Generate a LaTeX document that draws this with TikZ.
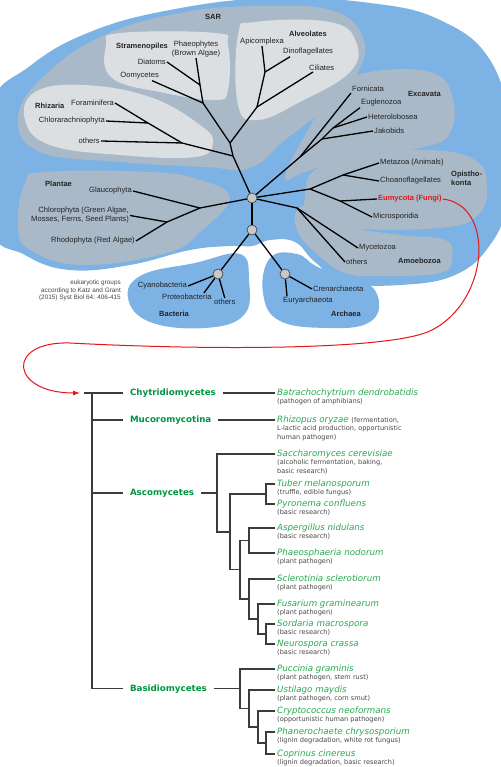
\documentclass[tikz,border=0pt]{standalone}
\usepackage{fontspec}
\setmainfont{Liberation Sans}
\newfontfamily\verdfont{DejaVu Sans}
\usetikzlibrary{arrows.meta}

\definecolor{blobblue}{RGB}{124,178,228}
\definecolor{zonegray}{RGB}{170,185,200}
\definecolor{boxgray}{RGB}{220,223,226}
\definecolor{hubgray}{RGB}{200,200,200}
\definecolor{inkgray}{RGB}{35,35,35}
\definecolor{notegray}{RGB}{70,70,70}
\definecolor{fungired}{RGB}{232,20,20}
\definecolor{cladegreen}{RGB}{0,150,64}
\definecolor{specgreen}{RGB}{40,170,80}
\definecolor{treegray}{RGB}{60,60,60}

\tikzset{
	lbl/.style={font=\fontsize{7.6}{9}\selectfont, text=inkgray, inner sep=1pt},
	grp/.style={font=\bfseries\fontsize{7.5}{9}\selectfont, text=inkgray, inner sep=1pt},
	cite/.style={font=\fontsize{6.4}{7.5}\selectfont, text=notegray, inner sep=0pt, align=right},
	hub/.style={circle, draw=treegray, fill=hubgray, line width=0.6pt, minimum size=10pt, inner sep=0pt},
	branch/.style={line width=1.3pt, black},
	clade/.style={font=\verdfont\bfseries\fontsize{8.7}{10}\selectfont, text=cladegreen, anchor=west, inner xsep=2.5pt, outer xsep=4.5pt},
	spec/.style={font=\verdfont\itshape\fontsize{8.7}{10}\selectfont, text=specgreen, anchor=west, inner xsep=2pt, inner ysep=1pt, text height=6.6pt, text depth=2pt},
	note/.style={font=\verdfont\fontsize{6.6}{8.6}\selectfont, text=notegray, anchor=north west, inner xsep=2pt, inner ysep=0pt, align=left},
	elbow/.style={line width=1.2pt, treegray},
	fungiarrow/.style={fungired, line width=1pt, -{Latex[length=7pt,width=5pt]}, shorten >=4pt}
}

\newcommand{\notefont}{\verdfont\upshape\fontsize{6.6}{8.6}\selectfont\color{notegray}}

\begin{document}
\begin{tikzpicture}[x=1pt,y=-1pt]

\def\BLOBCOLOR{blobblue}
\def\ZONECOLOR{zonegray}
\def\BOXCOLOR{boxgray}
	\useasboundingbox (0,0) rectangle (500,767);
	\fill[white] (0,0) rectangle (500,767);

	% blue areas
	\fill[\BLOBCOLOR] plot[smooth cycle, tension=0.7] coordinates {(-10,110) (30,66) (90,32) (170,10) (270,-2) (370,3) (440,20) (490,60) (510,130) (508,200) (490,245) (455,275) (400,285) (345,282) (315,262) (295,242) (270,240) (252,246) (230,246) (190,250) (130,265) (70,270) (25,255) (-10,225)};
	\fill[\BLOBCOLOR] plot[smooth cycle, tension=0.7] coordinates {(240,254) (249,280) (244,315) (205,328) (150,322) (128,298) (142,275) (195,263)};
	\fill[\BLOBCOLOR] plot[smooth cycle, tension=0.7] coordinates {(270,258) (297,254) (320,268) (363,280) (379,302) (368,323) (330,328) (280,321) (263,293)};

	% gray zones
	\fill[\ZONECOLOR] plot[smooth cycle, tension=0.7] coordinates {(18,120) (40,80) (100,37) (180,13) (260,6) (330,10) (362,35) (358,72) (320,112) (285,140) (250,168) (205,167) (120,162) (40,152)};
	\fill[\ZONECOLOR] plot[smooth cycle, tension=0.7] coordinates {(285,178) (305,135) (335,90) (370,72) (430,72) (452,95) (450,133) (420,148) (350,158) (305,172)};
	\fill[\ZONECOLOR] plot[smooth cycle, tension=0.7] coordinates {(297,210) (318,205) (345,225) (400,235) (445,240) (452,258) (440,273) (380,276) (345,273) (318,255) (298,232)};
	\fill[\ZONECOLOR] plot[smooth cycle, tension=0.7] coordinates {(305,195) (315,170) (360,155) (430,150) (475,160) (487,185) (478,215) (440,228) (350,228) (310,215)};
	\fill[\ZONECOLOR] plot[smooth cycle, tension=0.7] coordinates {(25,183) (45,172) (150,172) (200,180) (230,198) (200,232) (167,253) (83,265) (30,250) (18,225)};

	% light boxes
	\fill[\BOXCOLOR] plot[smooth cycle, tension=0.7] coordinates {(25,120) (35,92) (83,85) (150,97) (200,125) (213,143) (195,157) (120,155) (50,145)};
	\fill[\BOXCOLOR] plot[smooth cycle, tension=0.7] coordinates {(106,45) (120,33) (215,33) (228,45) (228,90) (215,100) (165,93) (112,78)};
	\fill[\BOXCOLOR] plot[smooth cycle, tension=0.7] coordinates {(238,35) (255,22) (330,22) (356,42) (350,72) (300,102) (258,120) (238,105)};

	% group names
	\node[grp] (sar) at (213,17) {SAR};
	\node[grp] (stra) at (142,47) {Stramenopiles};
	\node[grp, anchor=west] (rhza) at (34,106) {Rhizaria};
	\node[grp] (alve) at (308,34) {Alveolates};
	\node[grp, anchor=west] (exca) at (407,94) {Excavata};
	\node[grp, anchor=west, align=left] (opis) at (450,178.5) {Opistho-\\konta};
	\node[grp, anchor=west] (amoe) at (397,261) {Amoebozoa};
	\node[grp, anchor=west] (plan) at (44,184) {Plantae};
	\node[grp] (bact) at (174,314) {Bacteria};
	\node[grp] (arch) at (346,314) {Archaea};

	% leaves
	\node[lbl, anchor=south, align=center] (phae) at (196,58) {Phaeophytes\\(Brown Algae)};
	\node[lbl, anchor=east] (diat) at (167,62) {Diatoms};
	\node[lbl, anchor=east] (oomy) at (160,76) {Oomycetes};
	\node[lbl, anchor=east] (fora) at (115,103) {Foraminifera};
	\node[lbl, anchor=east] (chlr) at (106,121) {Chlorarachniophyta};
	\node[lbl, anchor=east] (roth) at (101,141) {others};
	\node[lbl, anchor=south] (apic) at (262,46) {Apicomplexa};
	\node[lbl, anchor=west] (dino) at (282,52) {Dinoflagellates};
	\node[lbl, anchor=west] (cili) at (308,68) {Ciliates};
	\node[lbl, anchor=west] (forn) at (351,89) {Fornicata};
	\node[lbl, anchor=west] (eugl) at (360,103) {Euglenozoa};
	\node[lbl, anchor=west] (hete) at (367,117) {Heterolobosea};
	\node[lbl, anchor=west] (jako) at (373,131) {Jakobids};
	\node[lbl, anchor=west] (meta) at (379,163) {Metazoa (Animals)};
	\node[lbl, anchor=west] (choa) at (379,181) {Choanoflagellates};
	\node[grp, anchor=west, text=fungired] (eumy) at (377,199) {Eumycota (Fungi)};
	\node[lbl, anchor=west] (micr) at (372,217) {Microsporidia};
	\node[lbl, anchor=west] (myce) at (358,248) {Mycetozoa};
	\node[lbl, anchor=west] (aoth) at (345,262) {others};
	\node[lbl, anchor=east] (glau) at (133,191) {Glaucophyta};
	\node[lbl, anchor=east, align=right] (chlo) at (130,215.5) {Chlorophyta (Green Algae,\\Mosses, Ferns, Seed Plants)};
	\node[lbl, anchor=east] (rhod) at (136,241) {Rhodophyta (Red Algae)};
	\node[lbl, anchor=east] (cyan) at (188,286) {Cyanobacteria};
	\node[lbl, anchor=west] (prot) at (161,297) {Proteobacteria};
	\node[lbl, anchor=west] (both) at (213,302) {others};
	\node[lbl, anchor=west] (cren) at (312,289) {Crenarchaeota};
	\node[lbl, anchor=west] (eury) at (282,301) {Euryarchaeota};
	\node[cite, anchor=east] (cite) at (121,290.5) {eukaryotic groups\\according to Katz and Grant\\(2015) Syst Biol 64: 406-415};

	% hubs
	\node[hub] (euk) at (252,198) {};
	\node[hub] (cel) at (252,230) {};
	\node[hub] (bac) at (218,274) {};
	\node[hub] (arc) at (285,274) {};

	\coordinate (s1) at (200,85);
	\coordinate (s2) at (203,103);
	\coordinate (s3) at (230,143);
	\coordinate (s0) at (233,156);
	\coordinate (r1) at (148,123);
	\coordinate (r2) at (182,143);
	\coordinate (a1) at (265,72);
	\coordinate (a2) at (257,107);
	\coordinate (x1) at (300,157);
	\coordinate (x2) at (322,139);
	\coordinate (x3) at (333,128);
	\coordinate (o1) at (310,189);
	\coordinate (o2) at (343,175);
	\coordinate (o3) at (340,201);
	\coordinate (m1) at (297,208);
	\coordinate (p1) at (200,208);
	\coordinate (p2) at (167,222);

	% unrooted tree
	\draw[branch] (phae.south) -- (s1);
	\draw[branch] (diat.east) -- (s1) -- (s2);
	\draw[branch] ([xshift=-8pt]oomy.south east) -- (s2) -- (s3) -- (s0) -- (euk);
	\draw[branch] (fora.east) -- (r1) -- (r2) -- (s0);
	\draw[branch] (chlr.east) -- (r1);
	\draw[branch] (roth.east) -- (r2);
	\draw[branch] (apic.south) -- (a1) -- (a2) -- (s3);
	\draw[branch] ([xshift=8pt]dino.south west) -- (a1);
	\draw[branch] ([xshift=5pt]cili.south west) -- (a2);
	\draw[branch] (forn.south west) -- (x1) -- (euk);
	\draw[branch] (x1) -- (x2) -- (jako.west);
	\draw[branch] (x2) -- (x3) -- (hete.west);
	\draw[branch] (x3) -- (eugl.south west);
	\draw[branch] (euk) -- (o1) -- (o2) -- (meta.west);
	\draw[branch] (o2) -- (choa.west);
	\draw[branch] (o1) -- (o3) -- (eumy.west);
	\draw[branch] (o3) -- (micr.west);
	\draw[branch] (euk) -- (m1) -- (myce.west);
	\draw[branch] (m1) -- (aoth.west);
	\draw[branch] (euk) -- (p1) -- (glau.east);
	\draw[branch] (p1) -- (p2) -- (chlo.east);
	\draw[branch] (p2) -- (rhod.east);
	\draw[branch] (euk) -- (cel);
	\draw[branch] (cel) -- (bac);
	\draw[branch] (cel) -- (arc);
	\draw[branch] (bac) -- (cyan.east);
	\draw[branch] (bac) -- ([xshift=-9pt]prot.north east);
	\draw[branch] (bac) -- (both.north);
	\draw[branch] (arc) -- (cren.west);
	\draw[branch] (arc) -- ([xshift=5pt]eury.north west);

	% fungal tree
	\coordinate (root) at (84,393);
	\coordinate (j0) at (92,393);
	\node[clade] (chyt) at (123,393) {Chytridiomycetes};
	\node[clade] (muco) at (123,420) {Mucoromycotina};
	\node[clade] (asco) at (123,493) {Ascomycetes};
	\node[clade] (basi) at (123,688.75) {Basidiomycetes};

	\node[spec] (batr) at (275,393) {Batrachochytrium dendrobatidis};
	\node[note] (batr-n) at (batr.south west) {(pathogen of amphibians)};
	\node[spec] (rhiz) at (275,420) {Rhizopus oryzae {\notefont (fermentation,}};
	\node[note] (rhiz-n) at (rhiz.south west) {L-lactic acid production, opportunistic\\human pathogen)};
	\node[spec] (sacc) at (275,454) {Saccharomyces cerevisiae};
	\node[note] (sacc-n) at (sacc.south west) {(alcoholic fermentation, baking,\\basic research)};
	\node[spec] (tube) at (275,484) {Tuber melanosporum};
	\node[note] (tube-n) at (tube.south west) {(truffle, edible fungus)};
	\node[spec] (pyro) at (275,504) {Pyronema confluens};
	\node[note] (pyro-n) at (pyro.south west) {(basic research)};
	\node[spec] (aspe) at (275,528) {Aspergillus nidulans};
	\node[note] (aspe-n) at (aspe.south west) {(basic research)};
	\node[spec] (phno) at (275,553) {Phaeosphaeria nodorum};
	\node[note] (phno-n) at (phno.south west) {(plant pathogen)};
	\node[spec] (scle) at (275,579) {Sclerotinia sclerotiorum};
	\node[note] (scle-n) at (scle.south west) {(plant pathogen)};
	\node[spec] (fusa) at (275,604) {Fusarium graminearum};
	\node[note] (fusa-n) at (fusa.south west) {(plant pathogen)};
	\node[spec] (sord) at (275,624) {Sordaria macrospora};
	\node[note] (sord-n) at (sord.south west) {(basic research)};
	\node[spec] (neur) at (275,644) {Neurospora crassa};
	\node[note] (neur-n) at (neur.south west) {(basic research)};
	\node[spec] (pucc) at (275,669) {Puccinia graminis};
	\node[note] (pucc-n) at (pucc.south west) {(plant pathogen, stem rust)};
	\node[spec] (usti) at (275,690) {Ustilago maydis};
	\node[note] (usti-n) at (usti.south west) {(plant pathogen, corn smut)};
	\node[spec] (cryp) at (275,711) {Cryptococcus neoformans};
	\node[note] (cryp-n) at (cryp.south west) {(opportunistic human pathogen)};
	\node[spec] (phan) at (275,732) {Phanerochaete chrysosporium};
	\node[note] (phan-n) at (phan.south west) {(lignin degradation, white rot fungus)};
	\node[spec] (copr) at (275,754) {Coprinus cinereus};
	\node[note] (copr-n) at (copr.south west) {(lignin degradation, basic research)};

	\coordinate (asc1) at (217,493);
	\coordinate (asc2) at (230,531.9);
	\coordinate (tub) at (266,494);
	\coordinate (asc3) at (240,569.75);
	\coordinate (asp) at (249,540.5);
	\coordinate (asc4) at (249,599);
	\coordinate (asc5) at (258,619);
	\coordinate (sor) at (266,634);
	\coordinate (bas1) at (240,688.75);
	\coordinate (bas2) at (249,708.5);
	\coordinate (bas3) at (258,727);
	\coordinate (pha) at (266,743);

	\draw[elbow] (root) -- (chyt.west);
	\draw[elbow] (chyt.east) -- (batr.west);
	\draw[elbow] (j0) |- (muco.west);
	\draw[elbow] (muco.east) -- (rhiz.west);
	\draw[elbow] (j0) |- (basi.west);
	\draw[elbow] (j0 |- asco.west) -- (asco.west);
	\draw[elbow] (asco.east) -- (asc1);
	\draw[elbow] (sacc.west) -| (asc1) |- (asc2);
	\draw[elbow] (tub) -| (asc2) |- (asc3);
	\draw[elbow] (tube.west) -| (tub) |- (pyro.west);
	\draw[elbow] (asp) -| (asc3) |- (asc4);
	\draw[elbow] (aspe.west) -| (asp) |- (phno.west);
	\draw[elbow] (scle.west) -| (asc4) |- (asc5);
	\draw[elbow] (fusa.west) -| (asc5) |- (sor);
	\draw[elbow] (sord.west) -| (sor) |- (neur.west);
	\draw[elbow] (basi.east) -- (bas1);
	\draw[elbow] (pucc.west) -| (bas1) |- (bas2);
	\draw[elbow] (usti.west) -| (bas2) |- (bas3);
	\draw[elbow] (cryp.west) -| (bas3) |- (pha);
	\draw[elbow] (phan.west) -| (pha) |- (copr.west);

	% link from fungi to the fungal tree
	\draw[fungiarrow] (eumy.east) .. controls (495,205) and (490,300) .. (432,330) .. controls (392,351) and (200,350) .. (70,343) .. controls (5,341) and (10,393) .. (root);

\end{tikzpicture}
\end{document}
